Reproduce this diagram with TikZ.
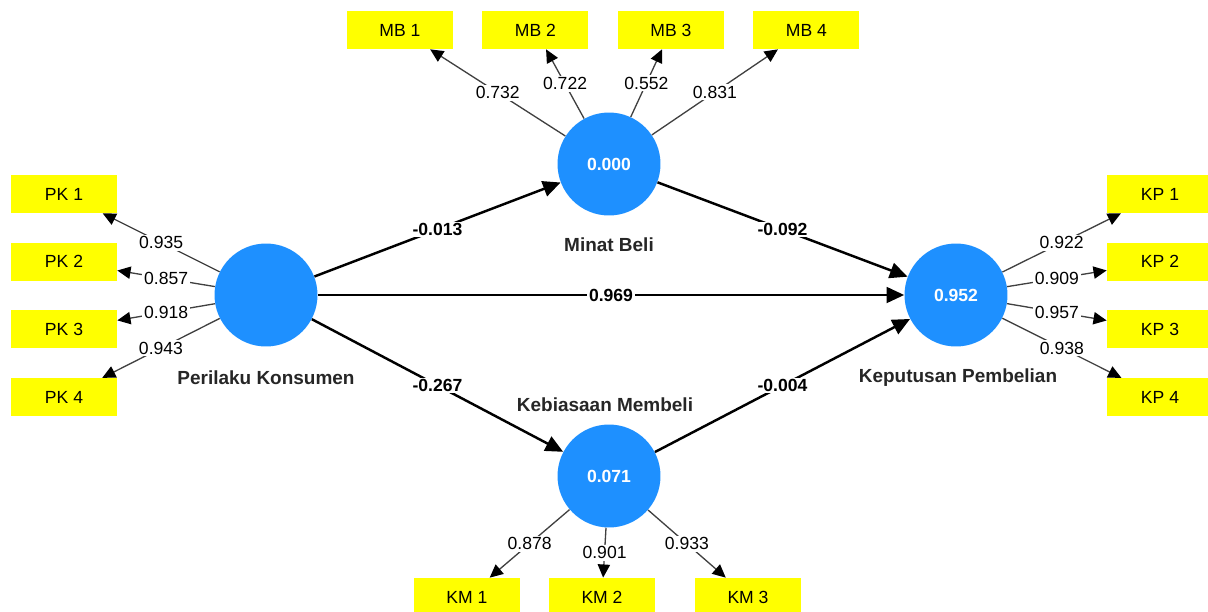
\documentclass[tikz,border=0pt]{standalone}
\usepackage{fontspec}
\setmainfont{Liberation Sans}
\usetikzlibrary{arrows.meta}
\definecolor{lvblue}{RGB}{30,144,255}
\definecolor{indyellow}{RGB}{255,255,0}
\definecolor{loadgray}{RGB}{64,64,64}

\begin{document}
\begin{tikzpicture}[x=0.02cm,y=-0.02cm,
    lv node/.style={circle,fill=lvblue,minimum size=2.06cm,inner sep=0pt,text=white,font=\fontsize{10}{12}\selectfont\bfseries},
    ind node/.style={rectangle,fill=indyellow,minimum width=2.12cm,minimum height=0.76cm,inner sep=0pt,font=\fontsize{10}{12}\selectfont},
    lv text/.style={font=\fontsize{10.8}{13}\selectfont\bfseries,text=black!85},
    loading/.style={-{Triangle[length=7.5pt,width=7pt,color=black]},draw=loadgray,line width=0.75pt},
    path coef/.style={-{Triangle[length=10pt,width=9pt]},draw=black,line width=1.4pt},
    load val/.style={fill=white,inner sep=1pt,font=\fontsize{10}{12}\selectfont},
    coef/.style={fill=white,inner sep=1pt,font=\fontsize{10}{12}\selectfont\bfseries}]
    \clip (0,0) rectangle (1208,612);

    % latent variables
    \node[lv node] (PK) at (266,295) {};
    \node[lv node] (MB) at (609,164) {0.000};
    \node[lv node] (KM) at (609,476) {0.071};
    \node[lv node] (KP) at (956,295) {0.952};
    \node[lv text] (PKtxt) at (266,378) {Perilaku Konsumen};
    \node[lv text] (MBtxt) at (609,245) {Minat Beli};
    \node[lv text] (KMtxt) at (605,405) {Kebiasaan Membeli};
    \node[lv text] (KPtxt) at (958,378) {Keputusan Pembelian};

    % indicators
    \begin{scope}[node distance=1.355cm]
    \node[ind node] (PK1) at (64,194) {PK 1};
    \node[ind node] (PK2) [below of=PK1] {PK 2};
    \node[ind node] (PK3) [below of=PK2] {PK 3};
    \node[ind node] (PK4) [below of=PK3] {PK 4};
    \node[ind node] (KP1) at (1160,194) {KP 1};
    \node[ind node] (KP2) [below of=KP1] {KP 2};
    \node[ind node] (KP3) [below of=KP2] {KP 3};
    \node[ind node] (KP4) [below of=KP3] {KP 4};
    \end{scope}
    \begin{scope}[node distance=2.71cm]
    \node[ind node] (MB1) at (400,30) {MB 1};
    \node[ind node] (MB2) [right of=MB1] {MB 2};
    \node[ind node] (MB3) [right of=MB2] {MB 3};
    \node[ind node] (MB4) [right of=MB3] {MB 4};
    \end{scope}
    \node[ind node] (KM1) at (467,597) {KM 1};
    \node[ind node] (KM2) at (602,597) {KM 2};
    \node[ind node] (KM3) at (748,597) {KM 3};

    % outer loadings
    \path
    (PK) edge[loading] node[load val] {0.935} (PK1)
         edge[loading] node[load val] {0.857} (PK2)
         edge[loading] node[load val] {0.918} (PK3)
         edge[loading] node[load val] {0.943} (PK4)
    (MB) edge[loading] node[load val] {0.732} (MB1)
         edge[loading] node[load val] {0.722} (MB2)
         edge[loading] node[load val] {0.552} (MB3)
         edge[loading] node[load val] {0.831} (MB4)
    (KM) edge[loading] node[load val] {0.878} (KM1)
         edge[loading] node[load val] {0.901} (KM2)
         edge[loading] node[load val] {0.933} (KM3)
    (KP) edge[loading] node[load val] {0.922} (KP1)
         edge[loading] node[load val] {0.909} (KP2)
         edge[loading] node[load val] {0.957} (KP3)
         edge[loading] node[load val] {0.938} (KP4);

    % path coefficients
    \path
    (PK) edge[path coef] node[coef] {-0.013} (MB)
         edge[path coef] node[coef] {0.969} (KP)
         edge[path coef] node[coef] {-0.267} (KM)
    (MB) edge[path coef] node[coef] {-0.092} (KP)
    (KM) edge[path coef] node[coef] {-0.004} (KP);
\end{tikzpicture}
\end{document}
